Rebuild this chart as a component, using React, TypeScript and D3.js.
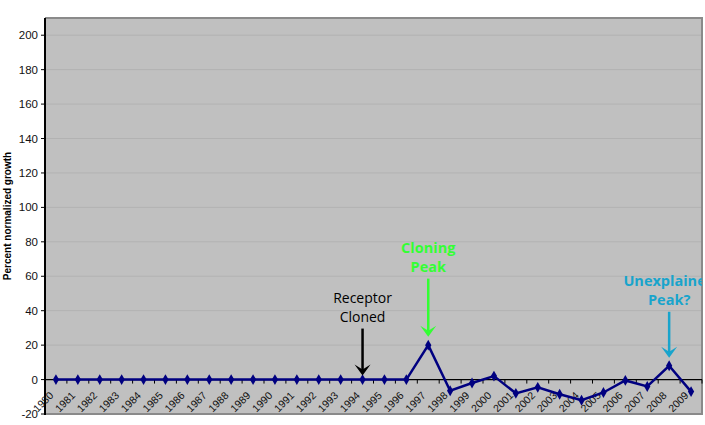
import * as d3 from 'd3';
import React from 'react';

// chart values
const years = ['1980', '1981', '1982', '1983', '1984', '1985', '1986', '1987', '1988', '1989',
  '1990', '1991', '1992', '1993', '1994', '1995', '1996', '1997', '1998', '1999',
  '2000', '2001', '2002', '2003', '2004', '2005', '2006', '2007', '2008', '2009'];
const growth = [0, 0, 0, 0, 0, 0, 0, 0, 0, 0,
  0, 0, 0, 0, 0, 0, 0, 20, -6.5, -2,
  2, -8, -4.5, -8.5, -12, -7.5, -0.5, -4, 8, -7];
const yTicks = [-20, 0, 20, 40, 60, 80, 100, 120, 140, 160, 180, 200];

const noteYears = ['1994', '1997', '2008'];
const noteLines = [['Receptor', 'Cloned'], ['Cloning', 'Peak'], ['Unexplained', 'Peak?']];

// annotation styling / arrow geometry
const noteStyle: Record<string, { color: string; bold: boolean; gap: number; len: number }> = {
  '1994': { color: '#000000', bold: false, gap: 4, len: 47 },
  '1997': { color: '#33ff33', bold: true, gap: 8.5, len: 58 },
  '2008': { color: '#18a4cc', bold: true, gap: 8, len: 46 },
};

const W = 705, H = 425;
const margin = { top: 18, right: 3, bottom: 11, left: 45 };

export default function App() {
  const x = d3.scaleBand().domain(years).range([margin.left, W - margin.right]);
  const y = d3.scaleLinear().domain([-20, 210]).range([H - margin.bottom, margin.top]);
  const cx = (yr: string) => (x(yr) as number) + x.bandwidth() / 2;

  const line = d3.line<number>()
    .x((_, i) => cx(years[i]))
    .y(d => y(d));
  const diamond = d3.symbol().type(d3.symbolDiamond).size(34)();

  const y0 = y(0);
  const top = margin.top, bottom = H - margin.bottom;
  const left = margin.left, right = W - margin.right;

  return (
    <svg width={W} height={H} style={{ position: 'absolute', left: 0, top: 0 }}
      fontFamily="'Liberation Sans', Arial, sans-serif">
      <defs>
        <clipPath id="plot">
          <rect x={left} y={top} width={right - left} height={bottom - top} />
        </clipPath>
      </defs>
      <rect x={left} y={top} width={right - left} height={bottom - top} fill="#c0c0c0" />
      {yTicks.filter(t => t > 0).map(t => (
        <line key={'g' + t} x1={left} x2={right} y1={y(t)} y2={y(t)} stroke="#b2b2b2" strokeWidth={1} />
      ))}
      {/* frame */}
      <line x1={left} x2={right + 1} y1={top} y2={top} stroke="#8a8a8a" strokeWidth={2} />
      <line x1={right} x2={right} y1={top} y2={bottom} stroke="#8a8a8a" strokeWidth={2} />
      <line x1={left} x2={right + 1} y1={bottom} y2={bottom} stroke="#8a8a8a" strokeWidth={2} />
      <line x1={left} x2={left} y1={top} y2={bottom + 1} stroke="#000" strokeWidth={2} />

      {/* y axis ticks */}
      {yTicks.map(t => (
        <g key={'t' + t}>
          <line x1={left - 4} x2={left} y1={y(t)} y2={y(t)} stroke="#000" />
          <text x={left - 7} y={y(t)} dy="0.35em" textAnchor="end" fontSize={11.5} fill="#111">{t}</text>
        </g>
      ))}
      <text transform={`translate(11,${(top + bottom) / 2}) rotate(-90)`} textAnchor="middle"
        fontSize={10} fontWeight="bold" fill="#000">Percent normalized growth</text>

      {/* category axis at zero */}
      <line x1={left} x2={right} y1={y0} y2={y0} stroke="#000" strokeWidth={1.2} />
      {years.map(yr => (
        <line key={'c' + yr} x1={(x(yr) as number) + x.bandwidth()} x2={(x(yr) as number) + x.bandwidth()}
          y1={y0} y2={y0 + 4} stroke="#000" />
      ))}
      {years.map(yr => (
        <text key={'l' + yr} transform={`translate(${cx(yr) - 4.5},${y0 + 14}) rotate(-45)`}
          textAnchor="end" dy="0.35em" fontSize={10.5} fill="#111">{yr}</text>
      ))}

      {/* series */}
      <path d={line(growth) as string} fill="none" stroke="#000080" strokeWidth={2.5} />
      {growth.map((v, i) => (
        <path key={'p' + i} d={diamond as string} transform={`translate(${cx(years[i])},${y(v)})`} fill="#000080" />
      ))}

      {/* annotations */}
      <g clipPath="url(#plot)" fontFamily="'Open Sans', 'DejaVu Sans', sans-serif">
        {noteYears.map((yr, j) => {
          const st = noteStyle[yr];
          const px = cx(yr);
          const v = growth[years.indexOf(yr)];
          const tip = y(v) - st.gap;
          const tail = tip - st.len;
          const textY = tail - 7 - 19;
          return (
            <g key={yr}>
              {noteLines[j].map((s, k) => (
                <text key={k} x={px} y={textY + k * 19} textAnchor="middle" fontSize={st.bold ? 14.5 : 14}
                  fontWeight={st.bold ? 'bold' : 'normal'} fill={st.color}>{s}</text>
              ))}
              <line x1={px} x2={px} y1={tail} y2={tip - 4} stroke={st.color} strokeWidth={2.5} />
              <path d={`M${px - 8},${tip - 11} L${px},${tip} L${px + 8},${tip - 11} L${px},${tip - 6} Z`}
                fill={st.color} />
            </g>
          );
        })}
      </g>
    </svg>
  );
}
